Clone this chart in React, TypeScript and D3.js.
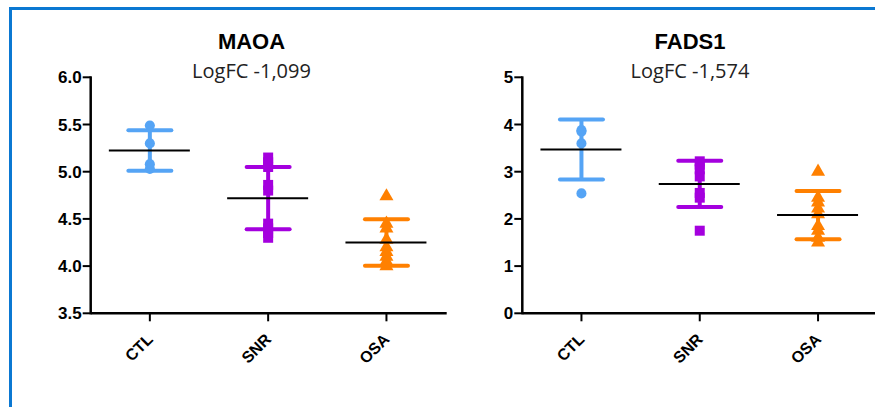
import React from "react";
import * as d3 from "d3";

// Groups on the x axis
const groups = ["CTL", "SNR", "OSA"];
const groupColors = ["#55A4F5", "#A400DE", "#FF8000"];

// MAOA expression per sample
const maoaCTL = [5.49, 5.3, 5.08, 5.03];
const maoaSNR = [5.15, 5.1, 5.05, 4.86, 4.8, 4.45, 4.4, 4.35, 4.3];
const maoaOSA = [4.74, 4.45, 4.4, 4.28, 4.2, 4.15, 4.1, 4.05, 4.0];
// MAOA mean and standard deviation per group
const maoaMean = [5.225, 4.72, 4.25];
const maoaSD = [0.215, 0.33, 0.245];
const maoaTicks = [3.5, 4.0, 4.5, 5.0, 5.5, 6.0];

// FADS1 expression per sample
const fadsCTL = [3.88, 3.85, 3.6, 2.54];
const fadsSNR = [3.22, 3.15, 3.05, 2.9, 2.55, 2.45, 1.75];
const fadsOSA = [3.0, 2.45, 2.35, 2.22, 2.1, 1.85, 1.75, 1.6, 1.5];
const fadsMean = [3.47, 2.74, 2.08];
const fadsSD = [0.635, 0.49, 0.51];
const fadsTicks = [0, 1, 2, 3, 4, 5];

type PanelProps = {
  title: string;
  subtitle: string;
  titleX: number;
  x0: number;
  yDomain: [number, number];
  ticks: number[];
  tickFormat: (v: number) => string;
  values: number[][];
  means: number[];
  sds: number[];
};

const symbolTypes = [d3.symbolCircle, d3.symbolSquare, d3.symbolTriangle];
const symbolSizes = [80, 100, 85];

function Panel(p: PanelProps) {
  const top = 77.3;
  const bottom = 313.3;
  const step = 118.3;
  const x = d3
    .scalePoint<string>()
    .domain(groups)
    .range([p.x0, p.x0 + step * 3])
    .padding(0.5);
  const y = d3.scaleLinear().domain(p.yDomain).range([bottom, top]);
  const axisEnd = p.x0 + 356;

  return (
    <g>
      <text
        x={p.titleX}
        y={48.5}
        textAnchor="middle"
        fontFamily="Liberation Sans, Arial, sans-serif"
        fontWeight="bold"
        fontSize={22}
        fill="#000"
      >
        {p.title}
      </text>
      <text
        x={p.titleX}
        y={78}
        textAnchor="middle"
        fontFamily="Open Sans, sans-serif"
        fontSize={20}
        fill="#222"
      >
        {p.subtitle}
      </text>

      {/* y axis */}
      <line x1={p.x0} x2={p.x0} y1={top - 1} y2={bottom + 1} stroke="#000" strokeWidth={2.5} />
      {p.ticks.map((t) => (
        <g key={t}>
          <line x1={p.x0 - 8} x2={p.x0} y1={y(t)} y2={y(t)} stroke="#000" strokeWidth={2} />
          <text
            x={p.x0 - 9}
            y={y(t)}
            dy="0.36em"
            textAnchor="end"
            fontFamily="Liberation Sans, Arial, sans-serif"
            fontWeight="bold"
            fontSize={17}
            fill="#000"
          >
            {p.tickFormat(t)}
          </text>
        </g>
      ))}

      {/* x axis */}
      <line x1={p.x0} x2={axisEnd} y1={bottom} y2={bottom} stroke="#000" strokeWidth={2.5} />
      {groups.map((g) => (
        <g key={g}>
          <line x1={x(g)} x2={x(g)} y1={bottom} y2={bottom + 8} stroke="#000" strokeWidth={2} />
          <text
            transform={`translate(${(x(g) as number) + 4},${bottom + 27}) rotate(-45)`}
            textAnchor="end"
            fontFamily="Liberation Sans, Arial, sans-serif"
            fontWeight="bold"
            fontSize={16}
            fill="#000"
          >
            {g}
          </text>
        </g>
      ))}

      {/* points, SD bars, mean lines */}
      {groups.map((g, i) => {
        const cx = x(g) as number;
        const color = groupColors[i];
        const hi = p.means[i] + p.sds[i];
        const lo = p.means[i] - p.sds[i];
        const sym = d3.symbol().type(symbolTypes[i]).size(symbolSizes[i]);
        return (
          <g key={g}>
            {p.values[i].map((v, j) => (
              <path
                key={j}
                d={sym() as string}
                transform={`translate(${cx},${y(v)})`}
                fill={color}
              />
            ))}
            <line x1={cx} x2={cx} y1={y(hi)} y2={y(lo)} stroke={color} strokeWidth={4} />
            <line x1={cx - 21.5} x2={cx + 21.5} y1={y(hi)} y2={y(hi)} stroke={color} strokeWidth={4} strokeLinecap="round" />
            <line x1={cx - 21.5} x2={cx + 21.5} y1={y(lo)} y2={y(lo)} stroke={color} strokeWidth={4} strokeLinecap="round" />
            <line x1={cx - 41} x2={cx + 40} y1={y(p.means[i])} y2={y(p.means[i])} stroke="#000" strokeWidth={2} />
          </g>
        );
      })}
    </g>
  );
}

export default function App() {
  return (
    <svg
      width={875}
      height={407}
      style={{ position: "absolute", left: 0, top: 0, background: "#fff" }}
    >
      <rect x={0} y={0} width={875} height={407} fill="#fff" />
      <rect x={10.5} y={8.5} width={880} height={420} fill="none" stroke="#0B78D2" strokeWidth={3} />
      <Panel
        title="MAOA"
        subtitle="LogFC -1,099"
        titleX={251.5}
        x0={90.7}
        yDomain={[3.5, 6.0]}
        ticks={maoaTicks}
        tickFormat={d3.format(".1f")}
        values={[maoaCTL, maoaSNR, maoaOSA]}
        means={maoaMean}
        sds={maoaSD}
      />
      <Panel
        title="FADS1"
        subtitle="LogFC -1,574"
        titleX={690}
        x0={522.3}
        yDomain={[0, 5]}
        ticks={fadsTicks}
        tickFormat={d3.format("d")}
        values={[fadsCTL, fadsSNR, fadsOSA]}
        means={fadsMean}
        sds={fadsSD}
      />
    </svg>
  );
}
